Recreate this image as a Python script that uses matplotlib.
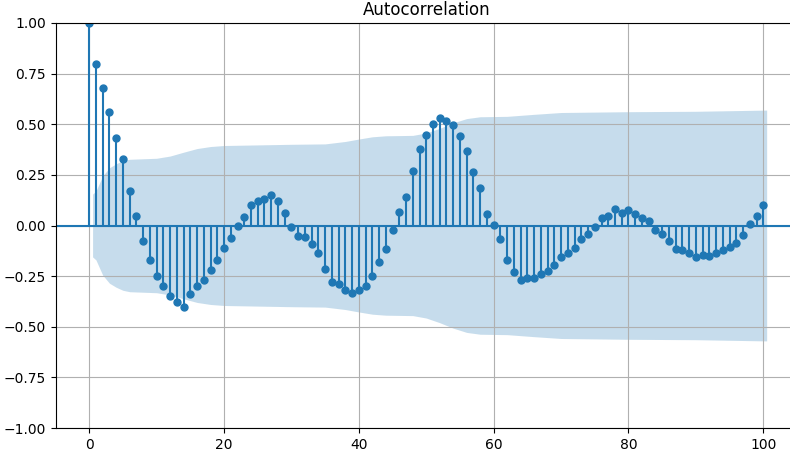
import numpy as np
import matplotlib
matplotlib.use('Agg')
import matplotlib.pyplot as plt

# autocorrelation values, lags 0..100
acf_vals = [
    1.00, 0.80, 0.68, 0.56, 0.43, 0.33, 0.17, 0.045, -0.075, -0.17,
    -0.25, -0.30, -0.35, -0.38, -0.40, -0.34, -0.30, -0.27, -0.22, -0.17,
    -0.11, -0.06, 0.00, 0.04, 0.10, 0.12, 0.13, 0.15, 0.12, 0.06,
    -0.006, -0.05, -0.057, -0.09, -0.136, -0.215, -0.28, -0.29, -0.317, -0.333,
    -0.317, -0.30, -0.25, -0.18, -0.115, -0.02, 0.067, 0.14, 0.27, 0.38,
    0.447, 0.503, 0.53, 0.516, 0.496, 0.443, 0.366, 0.263, 0.184, 0.058,
    0.002, -0.065, -0.17, -0.23, -0.27, -0.258, -0.258, -0.238, -0.226, -0.195,
    -0.157, -0.136, -0.11, -0.065, -0.044, -0.008, 0.037, 0.045, 0.08, 0.06,
    0.077, 0.057, 0.037, 0.024, -0.022, -0.04, -0.075, -0.115, -0.12, -0.136,
    -0.154, -0.146, -0.15, -0.136, -0.12, -0.108, -0.088, -0.048, 0.009, 0.045,
    0.10,
]
lags = np.arange(len(acf_vals))

# half-width of the confidence band, read at a few lags
band_lags = [0.5, 1, 2, 3, 4, 5, 6, 10, 12, 14, 16, 18, 20, 30, 35, 38, 40,
             42, 44, 48, 50, 52, 54, 56, 58, 62, 66, 70, 80, 90, 100.5]
band_half = [0.155, 0.17, 0.245, 0.285, 0.305, 0.32, 0.327, 0.332, 0.343, 0.362,
             0.38, 0.39, 0.395, 0.401, 0.403, 0.415, 0.427, 0.438, 0.443, 0.445,
             0.457, 0.48, 0.507, 0.528, 0.537, 0.539, 0.549, 0.558, 0.562,
             0.564, 0.57]

y_ticks = [-1.0, -0.75, -0.5, -0.25, 0.0, 0.25, 0.5, 0.75, 1.0]
x_ticks = [0, 20, 40, 60, 80, 100]

fig = plt.figure(figsize=(7.9, 4.54), dpi=100)
# axes runs a little past the right edge, like the cropped original
ax = fig.add_axes([55.5 / 790, 26 / 454, 741.5 / 790, 405 / 454])

band_half = np.array(band_half)
ax.fill_between(band_lags, -band_half, band_half, color='C0', alpha=0.25,
                linewidth=0)
ax.vlines(lags, [0], acf_vals, color='C0', linewidth=1.5)
ax.axhline(0, color='C0', linewidth=1.5)
ax.plot(lags, acf_vals, 'o', color='C0', markersize=5)

ax.set_xlim(-5, 105)
ax.set_ylim(-1, 1)
ax.set_xticks(x_ticks)
ax.set_yticks(y_ticks)
ax.grid(True, color='#b0b0b0', linewidth=0.8)
ax.set_title('Autocorrelation', fontsize=12)

plt.savefig('out.png', dpi=100)
plt.close()
